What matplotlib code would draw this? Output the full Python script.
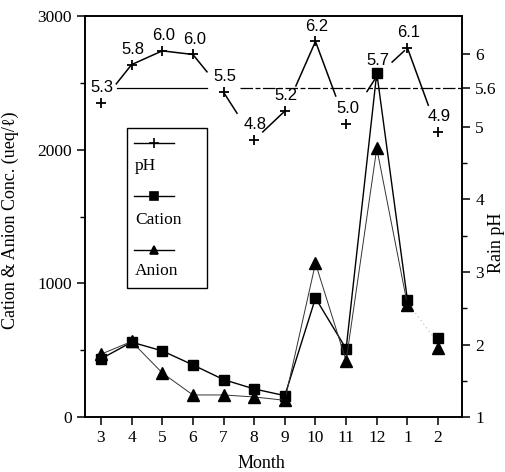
import matplotlib.pyplot as plt
from matplotlib.patches import Rectangle
from matplotlib.lines import Line2D

# months in sampling order (Mar .. Feb of next year)
months = [3, 4, 5, 6, 7, 8, 9, 10, 11, 12, 1, 2]
xpos = list(range(3, 15))

cation = [435, 560, 495, 390, 280, 210, 160, 890, 510, 2575, 875, 590]
anion = [470, 565, 330, 165, 165, 150, 125, 1150, 420, 2010, 840, 515]
ph = [5.33, 5.86, 6.05, 6.0, 5.48, 4.82, 5.22, 6.18, 5.04, 5.7, 6.09, 4.93]
ph_labels = ['5.3', '5.8', '6.0', '6.0', '5.5', '4.8', '5.2', '6.2', '5.0', '5.7', '6.1', '4.9']
ph_mean = 5.54  # drawn a bit below the nominal 5.6 in the original

# gaps left in the pH line next to the value labels (start, end trim)
trims = [(0.5, 0), (0, 0), (0, 0), (0, 0.54), (0, 0.56), (0.28, 0.05),
         (0.36, 0), (0, 0.34), (0.68, 0), (0.5, 0.1), (0, 0.32)]

serif = 'Liberation Serif'
plt.rcParams['font.family'] = serif

fig = plt.figure(figsize=(5.06, 4.72), dpi=100)
ax = fig.add_axes([0.168, 0.1165, 0.745, 0.8495])
ax2 = ax.twinx()

# concentration series (solid up to Jan, faint dotted Jan -> Feb)
ax.plot(xpos[:-1], cation[:-1], color='black', lw=1.0, marker='s', ms=7, zorder=3)
ax.plot(xpos[-1:], cation[-1:], color='black', marker='s', ms=7, ls='none', zorder=3)
ax.plot(xpos[:-1], anion[:-1], color='#333333', lw=0.7, marker='^', ms=8,
        mfc='black', mec='black', zorder=3)
ax.plot(xpos[-1:], anion[-1:], color='black', marker='^', ms=8, ls='none', zorder=3)
ax.plot(xpos[-2:], [(cation[-2] + anion[-2]) / 2, (cation[-1] + anion[-1]) / 2],
        color='#bbbbbb', lw=0.8, ls=(0, (1, 3)))

ax.set_xlim(2.48, 14.78)
ax.set_ylim(0, 3000)
ax.set_xticks(xpos)
ax.set_xticklabels([str(m) for m in months])
ax.set_yticks([0, 1000, 2000, 3000])
ax.set_yticks([500, 1500, 2500], minor=True)
ax.tick_params(axis='both', which='major', labelsize=12.5, length=6, width=1.1, direction='out')
ax.tick_params(axis='y', which='minor', length=3.5, width=1.0, direction='out')
ax.set_xlabel('Month', fontsize=13)
ax.xaxis.set_label_coords(0.467, -0.095)
ax.set_ylabel('Cation & Anion Conc. (ueq/ℓ)', fontsize=13)
ax.yaxis.set_label_coords(-0.175, 0.49)

# pH series on the right axis
ax2.set_ylim(1, 6.53)
ax2.plot(xpos, ph, ls='none', marker='+', ms=7, mew=1.3, color='black', zorder=4)
for i in range(len(xpos) - 1):
    x0, x1 = xpos[i], xpos[i + 1]
    y0, y1 = ph[i], ph[i + 1]
    a, b = trims[i]
    xs = [x0 + a * (x1 - x0), x1 - b * (x1 - x0)]
    ys = [y0 + a * (y1 - y0), y1 - b * (y1 - y0)]
    ax2.plot(xs, ys, color='black', lw=1.1)
for x, y, lab in zip(xpos, ph, ph_labels):
    ax2.annotate(lab, (x, y), xytext=(1, 11), textcoords='offset points',
                 ha='center', va='center', fontsize=12, family='Liberation Sans')

ax2.plot([3.52, 6.46], [ph_mean, ph_mean], color='black', lw=0.9)
ax2.plot([7.55, 14.78], [ph_mean, ph_mean], color='black', lw=0.9, ls=(0, (10, 2, 4, 2)))

ax2.set_yticks([1, 2, 3, 4, 5, ph_mean, 6])
ax2.set_yticklabels(['1', '2', '3', '4', '5', '5.6', '6'])
ax2.set_yticks([1.5, 2.5, 3.5, 4.5], minor=True)
ax2.tick_params(axis='y', which='major', labelsize=12.5, length=6, width=1.1, direction='out')
ax2.tick_params(axis='y', which='minor', length=3.5, width=1.0, direction='out')
ax2.set_ylabel('Rain pH', fontsize=13)
ax2.yaxis.set_label_coords(1.068, 0.435)

for a_ in (ax, ax2):
    for s in a_.spines.values():
        s.set_linewidth(1.2)

# hand-made legend box (markers above labels)
lx0, lx1 = (127 - 85) / 377, (207 - 85) / 377
ly0, ly1 = (417 - 288) / 401, (417 - 128) / 401
ax.add_patch(Rectangle((lx0, ly0), lx1 - lx0, ly1 - ly0, transform=ax.transAxes,
                       fill=False, lw=1.0, color='black', zorder=5))
entries = [('pH', '+', 143, 166), ('Cation', 's', 196, 220), ('Anion', '^', 250, 271)]
for lab, mk, ym, yt in entries:
    fy_m = (417 - ym) / 401
    fy_t = (417 - yt) / 401
    ax.add_line(Line2D([(134 - 85) / 377, (174 - 85) / 377], [fy_m, fy_m],
                       transform=ax.transAxes, color='black', lw=1.0, zorder=6))
    ax.plot([(154 - 85) / 377], [fy_m], transform=ax.transAxes, marker=mk,
            ms=6 if mk != '+' else 7, mew=1.2, color='black', zorder=6)
    ax.text((135 - 85) / 377, fy_t, lab, transform=ax.transAxes, fontsize=12.5,
            va='center', ha='left', zorder=6)

fig.savefig('out.png', dpi=100)
